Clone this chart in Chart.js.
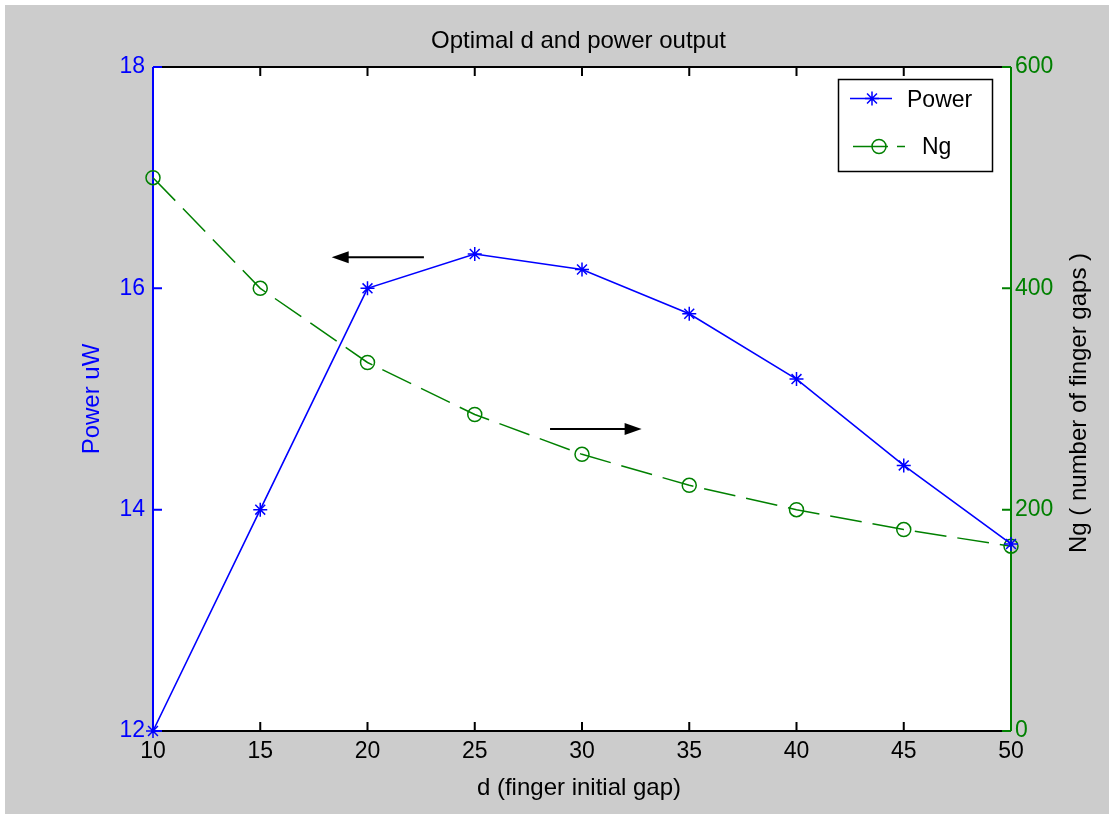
<!DOCTYPE html>
<html>
<head>
<meta charset="utf-8">
<script src="https://cdn.jsdelivr.net/npm/chart.js@4.4.1/dist/chart.umd.min.js"></script>
<style>
  html, body { margin: 0; padding: 0; background: #cccccc; overflow: hidden; }
  #wrap { position: relative; width: 1109px; height: 814px; }
  canvas { display: block; }
</style>
</head>
<body>
<div id="wrap"><canvas id="c" width="1109" height="814"></canvas></div>
<script>
const gapD = [10, 15, 20, 25, 30, 35, 40, 45, 50];
const powerUW = [12.0, 14.0, 16.0, 16.31, 16.17, 15.77, 15.18, 14.40, 13.69];
const ngGaps = [500, 400, 333, 286, 250, 222, 200, 182, 167];
const xTicks = [10, 15, 20, 25, 30, 35, 40, 45, 50];
const powerTicks = [12, 14, 16, 18];
const ngTicks = [0, 200, 400, 600];
const seriesNames = ['Power', 'Ng'];
// arrows in data units: [x from, x to, power value]
const arrowLeft = [22.63, 18.33, 16.28];
const arrowRight = [28.51, 32.78, 14.73];

const FONT = 'Liberation Sans, Arial, Helvetica, sans-serif';
const BLUE = '#0000ff';
const GREEN = '#008000';

function drawStar(ctx, x, y, r) {
  ctx.beginPath();
  for (let i = 0; i < 4; i++) {
    const a = i * Math.PI / 4;
    ctx.moveTo(x - Math.cos(a) * r, y - Math.sin(a) * r);
    ctx.lineTo(x + Math.cos(a) * r, y + Math.sin(a) * r);
  }
  ctx.stroke();
}

function drawArrow(ctx, x0, x1, y) {
  const dir = Math.sign(x1 - x0);
  ctx.beginPath();
  ctx.moveTo(x0, y);
  ctx.lineTo(x1 - dir * 10, y);
  ctx.stroke();
  ctx.beginPath();
  ctx.moveTo(x1, y);
  ctx.lineTo(x1 - dir * 17, y - 6);
  ctx.lineTo(x1 - dir * 17, y + 6);
  ctx.closePath();
  ctx.fill();
}

const matlabFrame = {
  id: 'matlabFrame',
  beforeDraw(chart) {
    const ctx = chart.ctx;
    const a = chart.chartArea;
    const w = ctx.canvas.width, h = ctx.canvas.height;
    ctx.save();
    ctx.fillStyle = '#ffffff';
    ctx.fillRect(0, 0, w, h);
    ctx.fillStyle = '#cccccc';
    ctx.fillRect(5, 5, w, h);
    ctx.fillStyle = '#ffffff';
    ctx.fillRect(a.left, a.top, a.right - a.left, a.bottom - a.top);
    ctx.restore();
  },
  beforeDatasetsDraw(chart) {
    const ctx = chart.ctx;
    const a = chart.chartArea;
    const sx = chart.scales.x, sy = chart.scales.y, sy1 = chart.scales.y1;
    const tl = 9;
    ctx.save();
    ctx.lineWidth = 2;
    ctx.strokeStyle = '#000';
    ctx.beginPath();
    ctx.moveTo(a.left, a.top); ctx.lineTo(a.right, a.top);
    ctx.moveTo(a.left, a.bottom); ctx.lineTo(a.right, a.bottom);
    xTicks.forEach(v => {
      const px = sx.getPixelForValue(v);
      ctx.moveTo(px, a.bottom); ctx.lineTo(px, a.bottom - tl);
      ctx.moveTo(px, a.top); ctx.lineTo(px, a.top + tl);
    });
    ctx.stroke();
    ctx.strokeStyle = BLUE;
    ctx.beginPath();
    ctx.moveTo(a.left, a.top); ctx.lineTo(a.left, a.bottom);
    powerTicks.forEach(v => {
      const py = sy.getPixelForValue(v);
      ctx.moveTo(a.left, py); ctx.lineTo(a.left + tl, py);
    });
    ctx.stroke();
    ctx.strokeStyle = GREEN;
    ctx.beginPath();
    ctx.moveTo(a.right, a.top); ctx.lineTo(a.right, a.bottom);
    ngTicks.forEach(v => {
      const py = sy1.getPixelForValue(v);
      ctx.moveTo(a.right, py); ctx.lineTo(a.right - tl, py);
    });
    ctx.stroke();
    ctx.restore();
  },
  afterDraw(chart) {
    const ctx = chart.ctx;
    const sx = chart.scales.x, sy = chart.scales.y;
    ctx.save();
    // titles
    ctx.fillStyle = '#000';
    ctx.font = '24px ' + FONT;
    ctx.textAlign = 'center';
    ctx.textBaseline = 'alphabetic';
    ctx.fillText('Optimal d and power output', 578.5, 48);
    ctx.fillText('d (finger initial gap)', 579, 795);
    ctx.save();
    ctx.translate(99, 399);
    ctx.rotate(-Math.PI / 2);
    ctx.fillStyle = BLUE;
    ctx.fillText('Power uW', 0, 0);
    ctx.restore();
    ctx.save();
    ctx.translate(1086, 403);
    ctx.rotate(-Math.PI / 2);
    ctx.fillText('Ng ( number of finger gaps )', 0, 0);
    ctx.restore();

    // arrows
    ctx.strokeStyle = '#000';
    ctx.fillStyle = '#000';
    ctx.lineWidth = 2;
    [arrowLeft, arrowRight].forEach(ar => {
      drawArrow(ctx, sx.getPixelForValue(ar[0]), sx.getPixelForValue(ar[1]), sy.getPixelForValue(ar[2]));
    });

    // legend
    ctx.fillStyle = '#fff';
    ctx.fillRect(838.5, 79.5, 154, 92);
    ctx.strokeStyle = '#000';
    ctx.lineWidth = 1.5;
    ctx.strokeRect(838.5, 79.5, 154, 92);

    ctx.strokeStyle = BLUE;
    ctx.lineWidth = 1.5;
    ctx.beginPath();
    ctx.moveTo(850, 98.5); ctx.lineTo(892, 98.5);
    ctx.stroke();
    drawStar(ctx, 872, 98.5, 7);

    ctx.strokeStyle = GREEN;
    ctx.beginPath();
    ctx.moveTo(853, 146.5); ctx.lineTo(888, 146.5);
    ctx.moveTo(897, 146.5); ctx.lineTo(905, 146.5);
    ctx.stroke();
    ctx.beginPath();
    ctx.arc(879, 146.5, 7, 0, Math.PI * 2);
    ctx.stroke();

    ctx.fillStyle = '#000';
    ctx.font = '23px ' + FONT;
    ctx.textAlign = 'left';
    ctx.fillText(seriesNames[0], 907, 106.5);
    ctx.fillText(seriesNames[1], 922, 154);
    ctx.restore();
  }
};

const tickFont = { family: FONT, size: 23 };

new Chart(document.getElementById('c'), {
  type: 'line',
  data: {
    datasets: [
      {
        label: seriesNames[0],
        data: gapD.map((d, i) => ({ x: d, y: powerUW[i] })),
        yAxisID: 'y',
        borderColor: BLUE,
        borderWidth: 1.6,
        pointStyle: 'star',
        pointRadius: 7,
        pointBorderColor: BLUE,
        pointBorderWidth: 1.5,
        pointBackgroundColor: BLUE,
        tension: 0,
        clip: false
      },
      {
        label: seriesNames[1],
        data: gapD.map((d, i) => ({ x: d, y: ngGaps[i] })),
        yAxisID: 'y1',
        borderColor: GREEN,
        borderWidth: 1.5,
        borderDash: [32, 11],
        pointStyle: 'circle',
        pointRadius: 7,
        pointBorderColor: GREEN,
        pointBorderWidth: 1.5,
        pointBackgroundColor: 'rgba(0,0,0,0)',
        tension: 0,
        clip: false
      }
    ]
  },
  options: {
    responsive: false,
    animation: false,
    devicePixelRatio: 1,
    layout: { padding: { top: 67, left: 0, right: 0, bottom: 0 } },
    plugins: { legend: { display: false }, title: { display: false }, tooltip: { enabled: false } },
    scales: {
      x: {
        type: 'linear', min: 10, max: 50,
        afterBuildTicks: s => { s.ticks = xTicks.map(v => ({ value: v })); },
        afterFit: s => { s.height = 83; },
        grid: { display: false, drawTicks: false },
        border: { display: false },
        ticks: { color: '#000', font: tickFont, padding: 7, maxRotation: 0, autoSkip: false }
      },
      y: {
        type: 'linear', position: 'left', min: 12, max: 18,
        afterBuildTicks: s => { s.ticks = powerTicks.map(v => ({ value: v })); },
        afterFit: s => { s.width = 153; },
        grid: { display: false, drawTicks: false },
        border: { display: false },
        ticks: { color: BLUE, font: tickFont, padding: 8 }
      },
      y1: {
        type: 'linear', position: 'right', min: 0, max: 600,
        afterBuildTicks: s => { s.ticks = ngTicks.map(v => ({ value: v })); },
        afterFit: s => { s.width = 98; },
        grid: { display: false, drawTicks: false },
        border: { display: false },
        ticks: { color: GREEN, font: tickFont, padding: 4 }
      }
    }
  },
  plugins: [matlabFrame]
});
</script>
</body>
</html>
